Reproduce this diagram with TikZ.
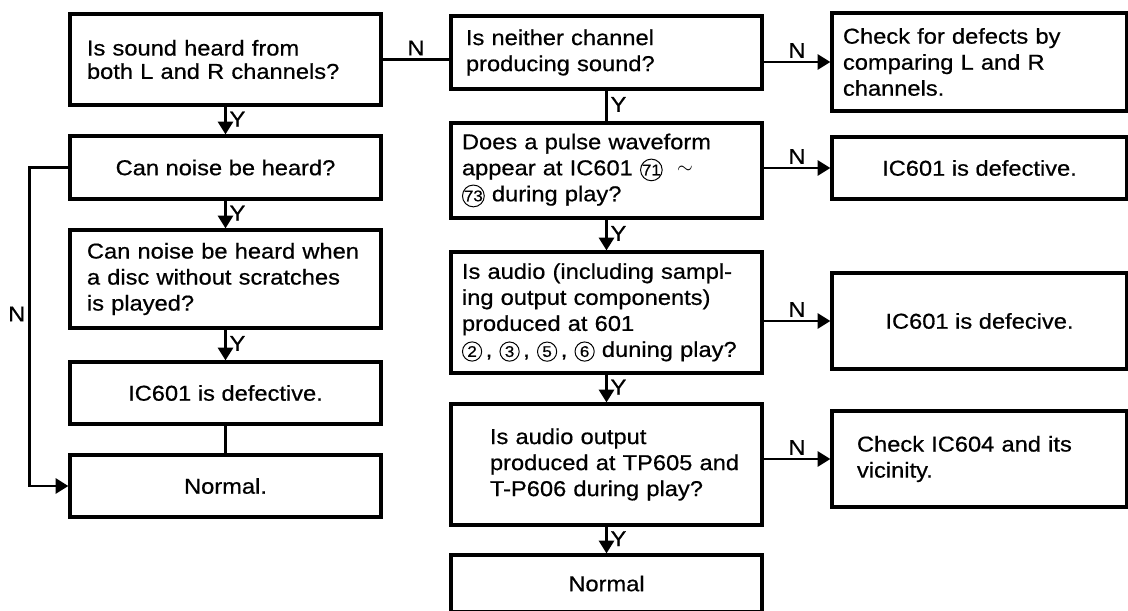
\documentclass[tikz,border=0pt]{standalone}
\usepackage{fontspec}
\setmainfont[FakeStretch=1.1,FakeBold=0.6]{Liberation Sans}
\usetikzlibrary{arrows.meta}
\newcommand{\boxfont}{\fontsize{15.3}{18.5}\selectfont}
\newcommand{\cnum}[1]{\tikz[baseline=(cn.base)]\node[draw,circle,inner sep=0pt,
    minimum size=0.48cm,text width=,align=center,line width=0.7pt,
    font=\fontsize{11}{11}\selectfont] (cn) {#1};}
\tikzset{
    qbox/.style={draw,line width=2.3pt,inner xsep=0pt,inner ysep=2pt,font=\boxfont},
    leftq/.style 2 args={qbox,align=left,text width=#1,
        execute at begin node={\leftskip=#2}},
    midq/.style={qbox,align=center},
    yarrow/.style={-{Triangle[length=0.32cm,width=0.38cm]},line width=1.8pt},
    link/.style={line width=1.8pt},
    lbl/.style={font=\boxfont,inner sep=2pt}
}
\begin{document}
\begin{tikzpicture}[x=0.025cm,y=-0.025cm,line width=1.8pt]
    \useasboundingbox (0,0) rectangle (1128,610);

    % left column
    \node[leftq={7.775cm}{0.425cm},minimum height=2.275cm] (snd) at (225.5,59.5)
        {\fontsize{15.3}{16.6}\selectfont Is sound heard from\\both L and R channels?\par\vspace{0.65cm}};
    \node[midq,minimum width=7.775cm,minimum height=1.575cm] (noise) at (225.5,167.5)
        {Can noise be heard?};
    \node[leftq={7.775cm}{0.425cm},minimum height=2.45cm] (disc) at (225.5,279)
        {Can noise be heard when\\a disc without scratches\\is played?};
    \node[midq,minimum width=7.775cm,minimum height=1.55cm] (icdefa) at (225.5,393)
        {IC601 is defective.};
    \node[midq,minimum width=7.775cm,minimum height=1.55cm] (norma) at (225.5,486)
        {Normal.};
    \draw[yarrow] (snd) -- node[lbl,right,pos=.45] {Y} (noise);
    \draw[yarrow] (noise) -- node[lbl,right,pos=.45] {Y} (disc);
    \draw[yarrow] (disc) -- node[lbl,right,pos=.45] {Y} (icdefa);
    \draw[link] (icdefa) -- (norma);
    \draw[yarrow] (noise.west) -- ++(-39,0) |- node[lbl,left,pos=.23] {N} (norma.west);

    % middle column
    \node[leftq={7.775cm}{0.375cm},minimum height=1.825cm] (neither) at (606.5,52.5)
        {Is neither channel\\producing sound?\par\vspace{0.3cm}};
    \node[leftq={7.775cm}{0.275cm},minimum height=2.375cm] (pulse) at (606.5,170.5)
        {Does a pulse waveform\\appear at IC601 \cnum{71} \ \raisebox{1pt}{\Large$\sim$}\\\cnum{73} during play?};
    \node[leftq={7.775cm}{0.275cm},minimum height=3.025cm] (audio) at (606.5,312.5)
        {Is audio (including sampl-\\ing output components)\\produced at 601\\\cnum{2}\,, \cnum{3}\,, \cnum{5}\,, \cnum{6} duning play?};
    \node[leftq={7.775cm}{0.975cm},minimum height=3.025cm] (tpout) at (606.5,464.5)
        {Is audio output\\produced at TP605 and\\T-P606 during play?};
    \node[midq,minimum width=7.775cm,minimum height=1.425cm] (normb) at (606.5,583.5)
        {Normal};
    \draw[link] (snd.east) -- node[lbl,above] {N} (snd.east -| neither.west);
    \draw[link] (neither) -- node[lbl,right,pos=.45] {Y} (pulse);
    \draw[yarrow] (pulse) -- node[lbl,right,pos=.45] {Y} (audio);
    \draw[yarrow] (audio) -- node[lbl,right,pos=.45] {Y} (tpout);
    \draw[yarrow] (tpout) -- node[lbl,right,pos=.45] {Y} (normb);

    % right column
    \node[leftq={7.375cm}{0.275cm},minimum height=2.45cm] (cmp) at (979.5,62)
        {Check for defects by\\comparing L and R\\channels.};
    \node[midq,minimum width=7.375cm,minimum height=1.55cm] (icdefb) at (979.5,168)
        {IC601 is defective.};
    \node[midq,minimum width=7.375cm,minimum height=2.4cm] (icdefc) at (979.5,321)
        {IC601 is defecive.};
    \node[leftq={7.375cm}{0.625cm},minimum height=2.4cm] (ic604) at (979.5,459)
        {Check IC604 and its\\vicinity.};
    \draw[yarrow] (neither.east |- cmp.west) -- node[lbl,above] {N} (cmp.west);
    \draw[yarrow] (pulse.east |- icdefb.west) -- node[lbl,above] {N} (icdefb.west);
    \draw[yarrow] (audio.east |- icdefc.west) -- node[lbl,above] {N} (icdefc.west);
    \draw[yarrow] (tpout.east |- ic604.west) -- node[lbl,above] {N} (ic604.west);
\end{tikzpicture}
\end{document}
